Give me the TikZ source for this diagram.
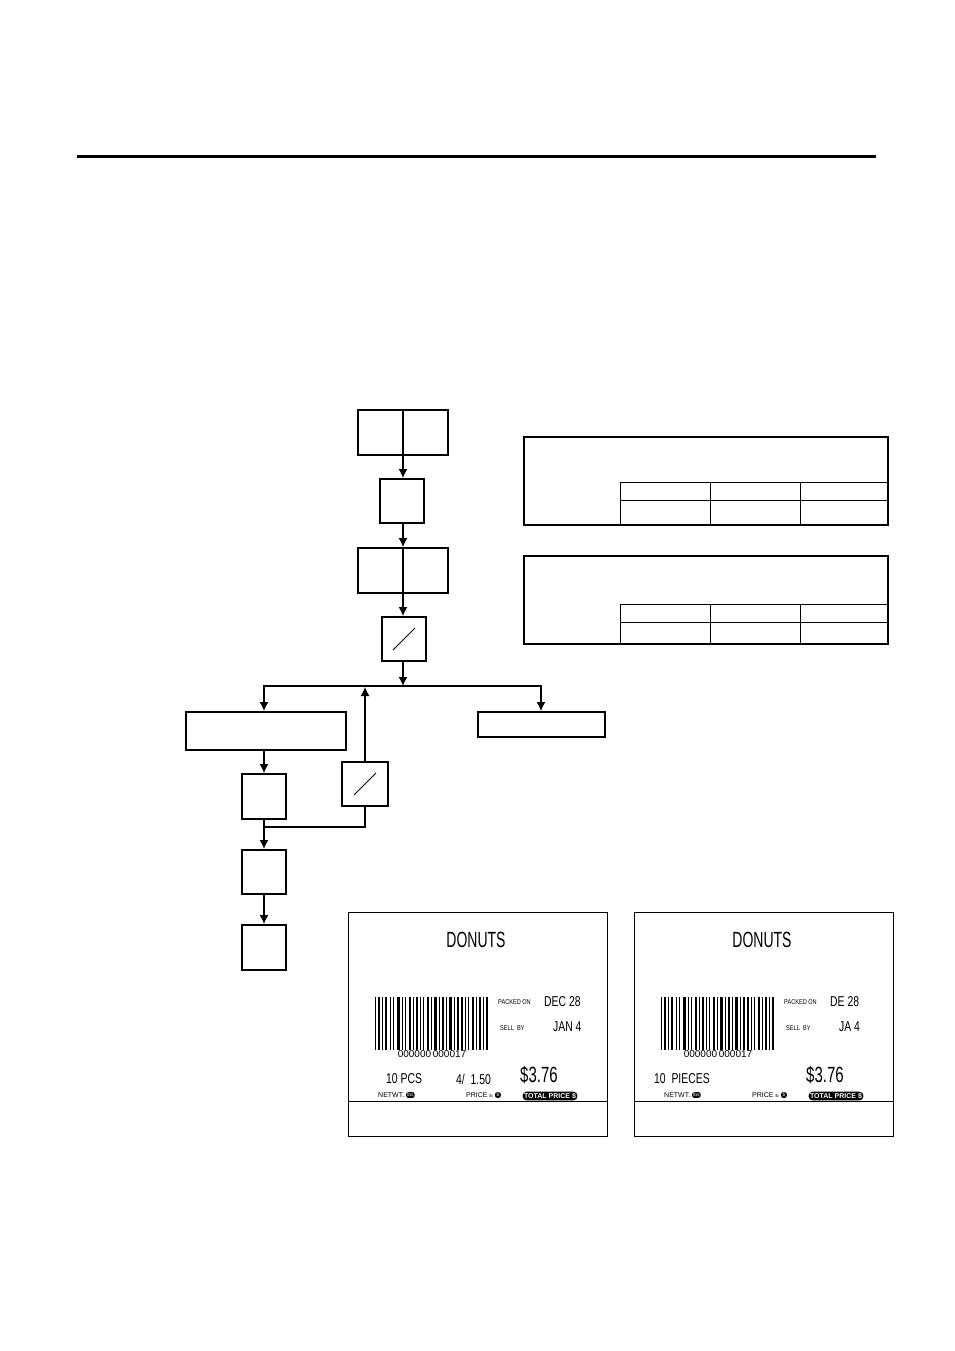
\documentclass[tikz,border=0pt]{standalone}
\usepackage{fontspec}
\setmainfont{Liberation Sans}
\begin{document}
\begin{tikzpicture}[x=1pt,y=-1pt,
  blk/.style={draw,line width=2.2pt},
  thinbox/.style={draw,line width=1.4pt},
  arr/.style={line width=1.2pt,-{Latex[length=9pt,width=9pt]}},
  ln/.style={line width=1.2pt},
  lab/.style={inner sep=0pt,anchor=west},
  big/.style={lab,font=\fontsize{20}{20}\selectfont},
  sm/.style={lab,font=\fontsize{7}{7}\selectfont},
  md/.style={lab,font=\fontsize{13}{13}\selectfont}]
\usetikzlibrary{arrows.meta}
\useasboundingbox (0,0) rectangle (954,1351);
\draw[line width=3pt] (77,157) -- (876,157);
% boxes
\draw[blk] (358,410) rectangle (448,455); \draw[blk] (403,410)--(403,455);
\node (A) at (403,455) {}; 
\draw[blk] (380,479) rectangle (424,523);
\draw[blk] (358,548) rectangle (448,593); \draw[blk] (403,548)--(403,593);
\draw[blk] (382,617) rectangle (426,661); \draw[line width=1pt] (393,650)--(415,628);
\draw[thinbox] (186,712) rectangle (346,750);
\draw[thinbox] (478,712) rectangle (605,737);
\draw[blk] (342,762) rectangle (388,806); \draw[line width=1pt] (354,795)--(376,773);
\draw[blk] (242,774) rectangle (286,819);
\draw[blk] (242,850) rectangle (286,894);
\draw[blk] (242,925) rectangle (286,970);
\coordinate (a1) at (403,456); \coordinate (b0) at (403,478);
\coordinate (b1) at (403,524); \coordinate (c0) at (403,547);
\coordinate (c1) at (403,594); \coordinate (d0) at (403,616);
\coordinate (d1) at (403,662); \coordinate (j) at (403,686);
\draw[arr] (a1)--(b0); \draw[arr] (b1)--(c0); \draw[arr] (c1)--(d0); \draw[arr] (d1)--(j);
\draw[ln] (264,686)--(541,686);
\coordinate (e0) at (264,711); \coordinate (f0) at (541,711);
\draw[arr] (264,685.4)--(e0); \draw[arr] (541,685.4)--(f0);
\draw[arr] (365,761)--(365,687);
\draw[arr] (264,751)--(264,773);
\draw[ln] (365,807)--(365,827)--(264,827);
\draw[arr] (264,820)--(264,849);
\draw[arr] (264,895)--(264,924);
% tables
\foreach \y/\r/\s in {437/482/500,556/604/622}{
  \pgfmathsetmacro\b{\y+88}
  \draw[line width=1.2pt] (524,\y) rectangle (888,\b);
  \draw[line width=1pt] (620,\r)--(888,\r) (620,\s)--(888,\s)
    (620,\r)--(620,\b) (710,\r)--(710,\b) (800,\r)--(800,\b);
}
% labels
\foreach \L/\DA/\DB/\Q in {348/DEC 28/JAN 4/1,634/DE 28/JA 4/2}{
  \begin{scope}[shift={(\L,0)}]
  \draw[line width=1pt] (0,912) rectangle (259,1136);
  \draw[line width=0.8pt] (0,1101)--(259,1101);
  \node[inner sep=0pt] at (128,940) {\fontsize{20}{20}\selectfont\scalebox{0.7}[1.1]{DONUTS}};
  \foreach \x/\w in {0/1,3/1.5,7/1,10/2,15/1,18/1,22/2.5,27/1,30/1,34/2,38/1,41/1.5,45/1,48/1,52/2,56/1,59/3,64/1,67/2,71/1,74/2.5,79/1,82/1.5,86/2,90/1,93/1,97/2,101/1,104/1.5,108/1,111/1.5}
     \fill (27+\x,997) rectangle (27+\x+\w,1050);
  \node[inner sep=0pt,fill=white] at (84,1054) {\fontsize{10}{10}\selectfont 000000\,000017};
  \node[sm] at (150,1002) {\scalebox{0.8}[1]{PACKED ON}};
  \node[md] at (196,1002) {\scalebox{0.8}[1.1]{\DA}};
  \node[sm] at (152,1028) {\scalebox{0.8}[1]{SELL\ \ BY}};
  \node[md] at (205,1027) {\scalebox{0.8}[1.1]{\DB}};
  \node[big] at (172,1075) {\scalebox{0.75}[1.1]{\$3.76}};
  \node[sm] at (30,1095) {NETWT. \tikz[baseline=-2pt]\node[fill=black,text=white,rounded corners=2pt,inner sep=1pt,font=\fontsize{5}{5}\selectfont]{lbs};};
  \node[sm] at (118,1095) {PRICE \scalebox{0.6}{lb} \tikz[baseline=-2pt]\node[fill=black,text=white,circle,inner sep=0.5pt,font=\fontsize{5}{5}\selectfont]{\$};};
  \node[fill=black,text=white,rounded corners=4pt,inner sep=1.5pt,font=\bfseries\fontsize{7}{7}\selectfont] at (\Q*0+202,1096) {TOTAL PRICE \$};
  \end{scope}}
\node[md] at (386,1079) {\scalebox{0.8}[1.1]{10 PCS}};
\node[md] at (456,1079) {\scalebox{0.8}[1.1]{4/\ \ 1.50}};
\node[md] at (654,1079) {\scalebox{0.8}[1.1]{10\ \ PIECES}};
\end{tikzpicture}
\end{document}
